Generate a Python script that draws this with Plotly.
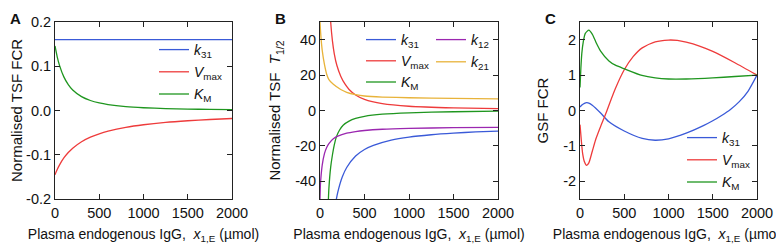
import plotly.graph_objects as go

# ---------------- data ----------------
# Panel A: normalised TSF FCR
a_x = [0, 25, 50, 100, 150, 200, 300, 400, 500, 600, 800, 1000, 1250, 1500, 1750, 2000]
a_k31 = [0.16, 0.16, 0.16, 0.16, 0.16, 0.16, 0.16, 0.16, 0.16, 0.16, 0.16, 0.16, 0.16, 0.16, 0.16, 0.16]
a_vmax = [-0.145, -0.1333, -0.1234, -0.1073, -0.0950, -0.0852, -0.0706, -0.0603, -0.0526,
          -0.0467, -0.0381, -0.0322, -0.0269, -0.0232, -0.0203, -0.0181]
a_km = [0.146, 0.1214, 0.1026, 0.0760, 0.0586, 0.0465, 0.0314, 0.0226, 0.0170,
        0.0133, 0.0087, 0.0062, 0.0043, 0.0032, 0.0024, 0.0019]

# Panel B: normalised TSF T1/2
b_k31_x = [140, 160, 180, 200, 250, 300, 400, 500, 600, 800, 1000, 1250, 1500, 1750, 2000]
b_k31 = [-66.7, -57.7, -51.2, -46.1, -37.6, -32.2, -25.7, -22.0, -19.7, -16.7, -15.0, -13.7, -12.8, -12.1, -11.7]
b_vmax_x = [110, 120, 140, 160, 190, 233, 280, 327, 400, 500, 700, 1000, 1500, 2000]
b_vmax = [60, 50, 39.2, 32.2, 25.4, 19.4, 15.0, 11.9, 8.8, 6.3, 3.9, 2.4, 1.5, 1.1]
b_km_x = [90, 100, 120, 140, 160, 184, 220, 260, 327, 400, 500, 700, 1000, 1500, 2000]
b_km = [-56, -44, -32, -25, -19.5, -14.9, -11, -8.3, -6, -4.5, -3.3, -2.1, -1.3, -0.7, -0.4]
b_k12_x = [0, 5, 10, 25, 50, 75, 100, 150, 200, 300, 400, 500, 700, 1000, 1500, 2000]
b_k12 = [-50, -41.7, -38.1, -30.9, -24.4, -20.9, -18.7, -16.0, -14.5, -12.8, -11.9, -11.3, -10.6, -10.1, -9.7, -9.5]
b_k21_x = [0, 10, 25, 50, 75, 100, 150, 233, 300, 400, 500, 700, 1000, 1500, 2000]
b_k21 = [50, 42, 34, 26, 20.5, 17.5, 14.8, 11.9, 10.3, 9.0, 8.2, 7.6, 7.2, 6.8, 6.6]

# Panel C: GSF FCR
c_k31_x = [0, 25, 50, 75, 100, 139, 233, 327, 500, 703, 850, 1000, 1200, 1400, 1500, 1600, 1700, 1800, 1900, 2000]
c_k31 = [0.10, 0.16, 0.20, 0.22, 0.21, 0.15, -0.07, -0.32, -0.58, -0.79, -0.84, -0.80, -0.64, -0.42,
         -0.29, -0.14, 0.03, 0.25, 0.55, 1.0]
c_vmax_x = [0, 15, 30, 50, 75, 100, 139, 180, 233, 282, 327, 400, 500, 600, 703, 850, 1000, 1100, 1200, 1350, 1500, 1750, 2000]
c_vmax = [-0.40, -0.85, -1.22, -1.45, -1.55, -1.48, -1.15, -0.80, -0.45, -0.15, 0.15, 0.62, 1.15,
          1.52, 1.77, 1.94, 1.99, 1.98, 1.93, 1.82, 1.67, 1.35, 1.0]
c_km_x = [0, 10, 20, 37, 60, 100, 140, 180, 233, 327, 400, 500, 700, 850, 1000, 1200, 1500, 1750, 2000]
c_km = [0.65, 1.2, 1.6, 1.94, 2.18, 2.27, 2.15, 1.93, 1.68, 1.40, 1.28, 1.18, 0.99, 0.92, 0.89, 0.89, 0.92, 0.96, 1.0]

x_ticks = [0, 500, 1000, 1500, 2000]
a_yticks = [-0.2, -0.1, 0.0, 0.1, 0.2]
a_yticktext = ["-0.2", "-0.1", "0.0", "0.1", "0.2"]
b_yticks = [-40, -20, 0, 20, 40]
b_yticktext = ["-40", "-20", "0", "20", "40"]
c_yticks = [-2, -1, 0, 1, 2]
c_yticktext = ["-2", "-1", "0", "1", "2"]

# ---------------- styling ----------------
# the page body has an 8px default margin, so the figure is drawn 8px in from the window edge
W, H = 776, 242
FONT = "Liberation Sans, Arial, sans-serif"
BLUE, RED, GREEN, PURPLE, ORANGE = "#3a5ad8", "#ee3b3b", "#1f961f", "#9b27b0", "#e8b33a"
LW = 1.3

def px_x(p):
    return p / W

def px_y(p):
    return 1 - p / H

fig = go.Figure()

def add(x, y, name, color, xa, ya, legend, group):
    fig.add_trace(go.Scatter(x=x, y=y, mode="lines", name=name,
                             line=dict(color=color, width=LW, shape="spline", smoothing=0.6),
                             xaxis=xa, yaxis=ya, legend=legend, legendgroup=group,
                             hoverinfo="skip"))

K31 = "<i>k</i><sub>31</sub>"
VMAX = "<i>V</i><sub>max</sub>"
KM = "<i>K</i><sub>M</sub>"
K12 = "<i>k</i><sub>12</sub>"
K21 = "<i>k</i><sub>21</sub>"

add(a_x, a_k31, K31, BLUE, "x", "y", "legend", "a1")
add(a_x, a_vmax, VMAX, RED, "x", "y", "legend", "a2")
add(a_x, a_km, KM, GREEN, "x", "y", "legend", "a3")

add(b_k31_x, b_k31, K31, BLUE, "x2", "y2", "legend2", "b1")
add(b_vmax_x, b_vmax, VMAX, RED, "x2", "y2", "legend2", "b2")
add(b_km_x, b_km, KM, GREEN, "x2", "y2", "legend2", "b3")
add(b_k12_x, b_k12, K12, PURPLE, "x2", "y2", "legend3", "b4")
add(b_k21_x, b_k21, K21, ORANGE, "x2", "y2", "legend3", "b5")

add(c_k31_x, c_k31, K31, BLUE, "x3", "y3", "legend4", "c1")
add(c_vmax_x, c_vmax, VMAX, RED, "x3", "y3", "legend4", "c2")
add(c_km_x, c_km, KM, GREEN, "x3", "y3", "legend4", "c3")

ydom = [px_y(191), px_y(14)]
doms = [[px_x(47), px_x(224)], [px_x(312), px_x(490)], [px_x(572), px_x(749)]]

xtitle = "Plasma endogenous IgG,  <i>x</i><sub>1,E</sub> (µmol)"
axis_common = dict(showline=True, linecolor="#222", linewidth=1, mirror="ticks",
                   ticks="inside", ticklen=5, tickcolor="#222", showgrid=False, zeroline=False,
                   automargin=False,
                   tickfont=dict(family=FONT, size=14.5, color="#111"))

ytitles = ["Normalised TSF FCR", "Normalised TSF  <i>T</i><sub>1/2</sub>", "GSF FCR"]
yranges = [[-0.2, 0.2], [-50, 50], [-2.5, 2.5]]
ytv = [a_yticks, b_yticks, c_yticks]
ytt = [a_yticktext, b_yticktext, c_yticktext]
ystand = [11, 10, 10]

for i in range(3):
    sx = "" if i == 0 else str(i + 1)
    fig.layout["xaxis" + sx] = dict(domain=doms[i], range=[0, 2000], anchor="y" + sx,
                                    tickvals=x_ticks, ticklabelstandoff=1,
                                    title=dict(text=xtitle, standoff=8,
                                               font=dict(family=FONT, size=14, color="#111")),
                                    **axis_common)
    fig.layout["yaxis" + sx] = dict(domain=ydom, range=yranges[i], anchor="x" + sx,
                                    tickvals=ytv[i], ticktext=ytt[i],
                                    title=dict(text=ytitles[i], standoff=ystand[i],
                                               font=dict(family=FONT, size=15, color="#111")),
                                    **axis_common)

leg_common = dict(bgcolor="rgba(0,0,0,0)", borderwidth=0, xanchor="left", yanchor="top",
                  font=dict(family=FONT, size=14, color="#111"), itemwidth=30)
fig.update_layout(
    legend=dict(x=px_x(146), y=px_y(26), tracegroupgap=1, **leg_common),
    legend2=dict(x=px_x(353), y=px_y(16), tracegroupgap=0, **leg_common),
    legend3=dict(x=px_x(423), y=px_y(16), tracegroupgap=1, **leg_common),
    legend4=dict(x=px_x(674), y=px_y(114), tracegroupgap=1, **leg_common),
)

for txt, xp in [("A", 0), ("B", 265), ("C", 535)]:
    fig.add_annotation(text="<b>%s</b>" % txt, x=px_x(xp), y=1, xref="paper", yref="paper",
                       xanchor="left", yanchor="top", showarrow=False,
                       font=dict(family=FONT, size=15, color="#111"))

fig.update_layout(width=W, height=H, margin=dict(l=0, r=0, t=0, b=0, autoexpand=False),
                  paper_bgcolor="white", plot_bgcolor="white", showlegend=True)

fig.write_html("out.html")
